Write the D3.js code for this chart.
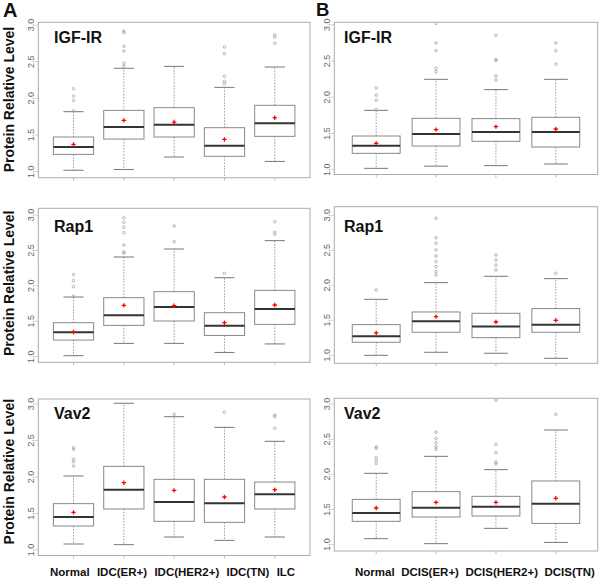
<!DOCTYPE html>
<html><head><meta charset="utf-8">
<script src="https://cdn.jsdelivr.net/npm/d3@7"></script>
<style>
body{margin:0;background:#fff}
svg{display:block;font-family:"Liberation Sans",Arial,Helvetica,sans-serif}
</style>
</head><body>
<svg id="c" width="600" height="578"></svg>
<script>
const groupsA = ["Normal","IDC(ER+)","IDC(HER2+)","IDC(TN)","ILC"];
const groupsB = ["Normal","DCIS(ER+)","DCIS(HER2+)","DCIS(TN)"];
const proteins = ["IGF-IR","Rap1","Vav2"];
const yTicks = [1.0,1.5,2.0,2.5,3.0];
const panelLetters = ["A","B"];
const yTitle = "Protein Relative Level";

// box stats: [lower whisker, Q1, median, Q3, upper whisker]
const igfA_box = [[1.02,1.236,1.336,1.473,1.818],[1.03,1.445,1.609,1.836,2.41],[1.2,1.473,1.641,1.873,2.436],[0.85,1.21,1.355,1.60,2.15],[1.14,1.482,1.659,1.905,2.427]];
const igfA_mean = [1.373,1.70,1.677,1.44,1.736];
const igfA_out = [[1.83,1.97,2.03,2.13],[2.44,2.48,2.645,2.71,2.895,2.918],[],[2.2,2.23,2.30,2.61,2.70],[2.75,2.836,2.868]];

const igfB_box = [[1.02,1.227,1.333,1.466,1.82],[1.05,1.328,1.494,1.71,2.248],[1.057,1.393,1.522,1.706,2.106],[1.08,1.314,1.522,1.724,2.248]];
const igfB_mean = [1.365,1.554,1.595,1.563];
const igfB_out = [[1.834,1.96,2.03,2.13],[2.354,2.40,2.644,2.75,3.02],[2.239,2.294,2.51,2.52,2.855],[2.455,2.644,2.75]];

const rapA_box = [[1.014,1.235,1.344,1.48,1.842],[1.188,1.442,1.584,1.833,2.407],[1.188,1.504,1.70,1.918,2.52],[1.06,1.30,1.438,1.621,2.115],[1.18,1.456,1.673,1.936,2.638]];
const rapA_mean = [1.348,1.725,1.72,1.48,1.73];
const rapA_out = [[1.856,1.988,2.073,2.16],[2.46,2.48,2.576,2.75,2.826,2.896,2.96],[2.624,2.845],[2.176],[2.727,2.755,2.906]];

const rapB_box = [[1.0,1.186,1.271,1.438,1.80],[1.043,1.329,1.486,1.619,2.038],[1.029,1.252,1.41,1.60,2.129],[0.957,1.329,1.438,1.667,2.095]];
const rapB_mean = [1.319,1.552,1.476,1.50];
const rapB_out = [[1.933],[2.148,2.195,2.267,2.338,2.419,2.505,2.6,2.68,2.957],[2.219,2.29,2.362,2.433],[2.171]];

const vavA_box = [[1.082,1.329,1.452,1.635,2.014],[1.073,1.562,1.826,2.146,3.01],[1.178,1.393,1.658,1.968,2.826],[1.132,1.379,1.64,1.968,2.68],[1.178,1.562,1.763,1.931,2.489]];
const vavA_mean = [1.516,1.922,1.817,1.726,1.826];
const vavA_out = [[2.15,2.21,2.24,2.38,2.40],[],[2.858],[2.886],[2.667,2.826,2.849]];

const vavB_box = [[1.083,1.33,1.449,1.643,2.014],[1.012,1.392,1.525,1.753,2.256],[1.23,1.406,1.539,1.686,2.066],[1.03,1.30,1.582,1.905,2.631]];
const vavB_mean = [1.52,1.60,1.60,1.658];
const vavB_out = [[2.156,2.20,2.24,2.37,2.39],[2.356,2.394,2.45,2.51,2.60],[2.147,2.175,2.308,2.427,3.058],[2.854]];

// ---- layout ----
const cols = [
  {x0:38.3, x1:310, groups:groupsA, labX:31, letterX:3, letterY:17, letterSize:20, titleX:54,
   labStart:50, labGap:7.3,
   rows:[{y0:22.3,y1:177.7,p1:171.7,p3:25},{y0:208.3,y1:362.3,p1:356.7,p3:215},{y0:399,y1:555.5,p1:550,p3:404}],
   data:[[igfA_box,igfA_mean,igfA_out],[rapA_box,rapA_mean,rapA_out],[vavA_box,vavA_mean,vavA_out]]},
  {x0:334.3, x1:597.7, groups:groupsB, labX:327, letterX:316, letterY:16, letterSize:18.5, titleX:344,
   labStart:355, labGap:6.5,
   rows:[{y0:22.3,y1:174.5,p1:169.8,p3:24.8},{y0:206.7,y1:363.3,p1:355.3,p3:215.3},{y0:398.3,y1:551,p1:544.5,p3:404.1}],
   data:[[igfB_box,igfB_mean,igfB_out],[rapB_box,rapB_mean,rapB_out],[vavB_box,vavB_mean,vavB_out]]}
];
const titleBaselines = [42.7, 231.7, 419.3];
const yTitleCenters = [99.5, 283.3, 471.7];

const svg = d3.select("#c");
const defs = svg.append("defs");

cols.forEach((col, ci) => {
  const n = col.groups.length;
  const x = d3.scaleLinear().domain([0.3, n + 0.7]).range([col.x0, col.x1]);
  const bw = x(1.4) - x(1);      // half box width (boxwex 0.8)
  const sw = bw * 0.5;           // half staple width

  col.rows.forEach((r, ri) => {
    const [boxes, means, outs] = col.data[ri];
    const y = d3.scaleLinear().domain([1, 3]).range([r.p1, r.p3]);
    const id = `clip${ci}${ri}`;
    defs.append("clipPath").attr("id", id).append("rect")
      .attr("x", col.x0).attr("y", r.y0).attr("width", col.x1 - col.x0).attr("height", r.y1 - r.y0);
    const g = svg.append("g").attr("clip-path", `url(#${id})`);
    const items = boxes.map((b, i) => ({b, m: means[i], o: outs[i], cx: x(i + 1)}));

    items.forEach(d => {
      g.append("line").attr("x1", d.cx).attr("x2", d.cx).attr("y1", y(d.b[3])).attr("y2", y(d.b[4]))
        .attr("stroke", "#999").attr("stroke-dasharray", "1.5,1.5");
      g.append("line").attr("x1", d.cx).attr("x2", d.cx).attr("y1", y(d.b[1])).attr("y2", y(d.b[0]))
        .attr("stroke", "#999").attr("stroke-dasharray", "1.5,1.5");
      [d.b[0], d.b[4]].forEach(v => g.append("line")
        .attr("x1", d.cx - sw).attr("x2", d.cx + sw).attr("y1", y(v)).attr("y2", y(v))
        .attr("stroke", "#777").attr("stroke-width", 1));
      g.append("rect").attr("x", d.cx - bw).attr("width", 2 * bw)
        .attr("y", y(d.b[3])).attr("height", y(d.b[1]) - y(d.b[3]))
        .attr("fill", "#fff").attr("stroke", "#888").attr("stroke-width", 1);
      g.append("line").attr("x1", d.cx - bw).attr("x2", d.cx + bw).attr("y1", y(d.b[2])).attr("y2", y(d.b[2]))
        .attr("stroke", "#333").attr("stroke-width", 2);
      d.o.forEach(v => g.append("circle").attr("cx", d.cx).attr("cy", y(v)).attr("r", 1.3)
        .attr("fill", "none").attr("stroke", "#999").attr("stroke-width", 0.7));
      g.append("path").attr("d", `M${d.cx - 2.2},${y(d.m)}H${d.cx + 2.2}M${d.cx},${y(d.m) - 2.2}V${y(d.m) + 2.2}`)
        .attr("stroke", "#f00").attr("stroke-width", 1.3);
    });

    svg.append("rect").attr("x", col.x0).attr("y", r.y0).attr("width", col.x1 - col.x0).attr("height", r.y1 - r.y0)
      .attr("fill", "none").attr("stroke", "#aaa").attr("stroke-width", 1);

    yTicks.forEach(t => {
      svg.append("text").attr("transform", `translate(${col.labX + 3},${y(t)}) rotate(-90)`)
        .attr("text-anchor", "middle").attr("font-size", 9).attr("fill", "#666").text(d3.format(".1f")(t));
      svg.append("line").attr("x1", col.x0 - 3).attr("x2", col.x0).attr("y1", y(t)).attr("y2", y(t))
        .attr("stroke", "#ccc");
    });
    items.forEach(d => svg.append("line").attr("x1", d.cx).attr("x2", d.cx).attr("y1", r.y1).attr("y2", r.y1 + 3)
      .attr("stroke", "#bbb"));

    svg.append("text").attr("x", col.titleX).attr("y", titleBaselines[ri]).attr("font-size", 16)
      .attr("font-weight", "bold").attr("fill", "#111").text(proteins[ri]);

    // x labels on bottom row: set as one flowing line of labels
    if (ri === 2) {
      let cursor = col.labStart;
      col.groups.forEach(gname => {
        const t = svg.append("text").attr("x", cursor).attr("y", 576)
          .attr("font-size", 11.5).attr("font-weight", "bold").attr("fill", "#111").text(gname);
        cursor += t.node().getComputedTextLength() + col.labGap;
      });
    }
  });

  svg.append("text").attr("x", col.letterX).attr("y", col.letterY).attr("font-size", col.letterSize)
    .attr("font-weight", "bold").attr("fill", "#111").text(panelLetters[ci]);
});

yTitleCenters.forEach(cy => svg.append("text").attr("transform", `translate(13.5,${cy}) rotate(-90)`)
  .attr("text-anchor", "middle").attr("font-size", 14).attr("font-weight", "bold").attr("fill", "#111").text(yTitle));
</script>
</body></html>
